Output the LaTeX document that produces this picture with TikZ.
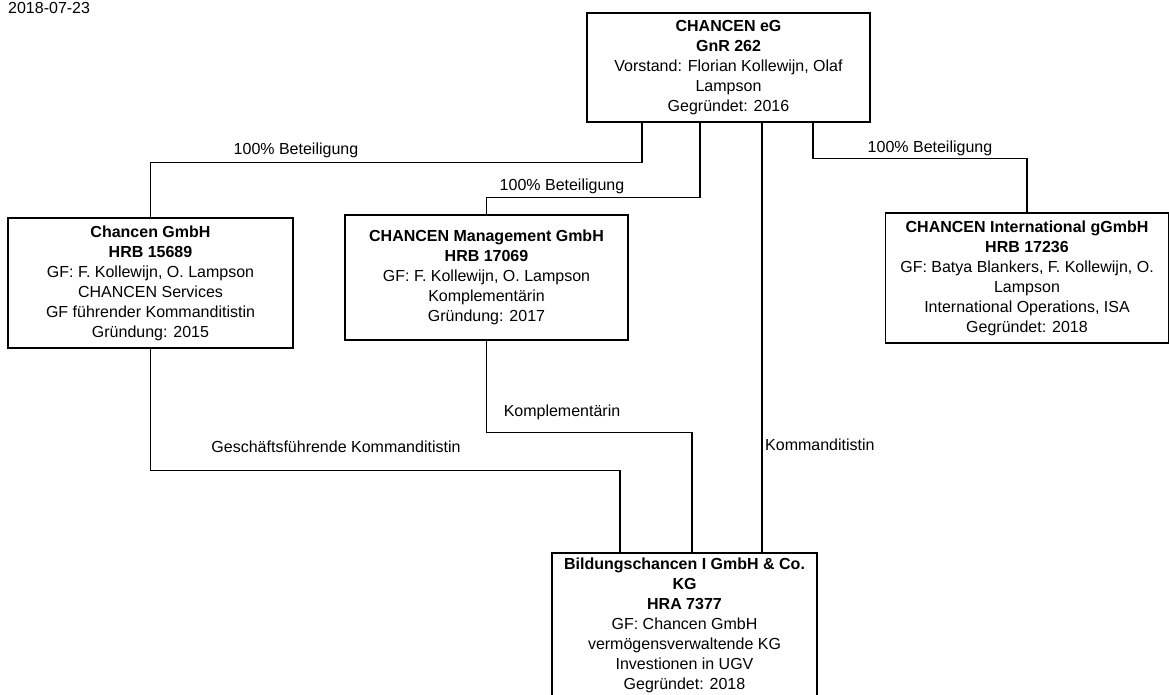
\documentclass[tikz,border=0pt]{standalone}
\usepackage{fontspec}
\setmainfont{Liberation Sans}
\usepackage{tikz}
\tikzstyle{company}=[draw=black,line width=1.3pt,align=center,inner sep=0pt,font=\fontsize{16}{20}\selectfont]
\tikzstyle{link} = [draw,line width=1.2pt]
\tikzstyle{linklabel} = [font=\fontsize{16}{20}\selectfont,inner sep=0pt]

\begin{document}
\begin{tikzpicture}[x=1pt,y=-1pt]
    \useasboundingbox (0,0) rectangle (1169,695);

    \node[linklabel,anchor=west] (date) at (8,8) {2018-07-23};

    % First we draw the companies
    \node[company,minimum width=283pt,minimum height=109pt] (eg) at (728.5,67.5)
        {\textbf{CHANCEN eG}\\\textbf{GnR 262}\\Vorstand: Florian Kollewijn, Olaf\\Lampson\\Gegründet: 2016};
    \node[company,minimum width=285pt,minimum height=130pt] (gmbh) at (150.5,283)
        {\textbf{Chancen GmbH}\\\textbf{HRB 15689}\\GF: F. Kollewijn, O. Lampson\\CHANCEN Services\\GF führender Kommanditistin\\Gründung: 2015};
    \node[company,minimum width=283pt,minimum height=125pt] (mgmt) at (486.5,277.5)
        {\textbf{CHANCEN Management GmbH}\\\textbf{HRB 17069}\\GF: F. Kollewijn, O. Lampson\\Komplementärin\\Gründung: 2017};
    \node[company,minimum width=283pt,minimum height=130pt] (intl) at (1027,278)
        {\textbf{CHANCEN International gGmbH}\\\textbf{HRB 17236}\\GF: Batya Blankers, F. Kollewijn, O.\\Lampson\\International Operations, ISA\\Gegründet: 2018};
    \node[company,minimum width=265pt,minimum height=144pt] (kg) at (684.5,625)
        {\textbf{Bildungschancen I GmbH \& Co.}\\\textbf{KG}\\\textbf{HRA 7377}\\GF: Chancen GmbH\\vermögensverwaltende KG\\Investionen in UGV\\Gegründet: 2018};

    % Connect companies
    \path[link] ([xshift=-86.5]eg.south) -- ++(0,40) -| (gmbh.north);
    \path[link] ([xshift=-28.5]eg.south) -- ++(0,75) -| (mgmt.north);
    \path[link] ([xshift=84.5]eg.south) -- ++(0,36) -| (intl.north);
    \path[link] ([xshift=33.5]eg.south) -- ([xshift=77.5]kg.north);
    \path[link] (gmbh.south) -- ++(0,122) -| ([xshift=-64.5]kg.north);
    \path[link] (mgmt.south) -- ++(0,92) -| ([xshift=7.5]kg.north);

    \node[linklabel] (shareGmbh) at (296,150) {100\% Beteiligung};
    \node[linklabel] (shareMgmt) at (562,186) {100\% Beteiligung};
    \node[linklabel] (shareIntl) at (930,148) {100\% Beteiligung};
    \node[linklabel,anchor=west] (kommEg) at (765,445) {Kommanditistin};
    \node[linklabel] (kommGmbh) at (336,447) {Geschäftsführende Kommanditistin};
    \node[linklabel] (komplMgmt) at (562,412) {Komplementärin};
\end{tikzpicture}
\end{document}
